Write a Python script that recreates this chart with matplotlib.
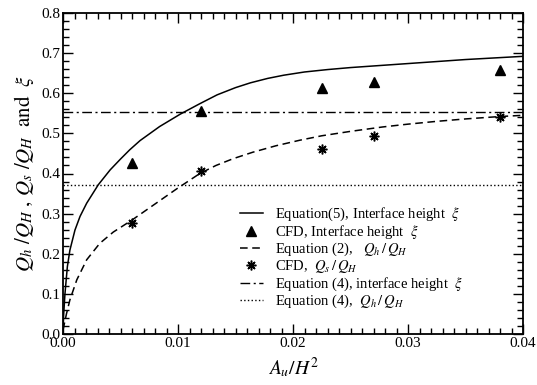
import matplotlib.pyplot as plt
from matplotlib.ticker import MultipleLocator

plt.rcParams['font.family'] = ['Liberation Serif', 'DejaVu Serif']
plt.rcParams['mathtext.fontset'] = 'stix'

# Equation (5), interface height
eq5_x = [0.0, 0.00005, 0.00017, 0.00038, 0.0006, 0.00104, 0.00148, 0.00206, 0.00307, 0.0041,
         0.0050, 0.0058, 0.0067, 0.0084, 0.0102, 0.0119, 0.0134, 0.0150, 0.0163, 0.0178,
         0.0192, 0.0210, 0.0230, 0.0250, 0.0275, 0.0300, 0.0325, 0.0350, 0.0375, 0.0400]
eq5_y = [0.0, 0.045, 0.10, 0.168, 0.209, 0.259, 0.293, 0.326, 0.372, 0.409,
         0.436, 0.459, 0.482, 0.517, 0.548, 0.574, 0.596, 0.614, 0.626, 0.637,
         0.645, 0.653, 0.659, 0.664, 0.669, 0.674, 0.679, 0.684, 0.688, 0.692]

# Equation (2), Qh/QH
eq2_x = [0.0, 0.0003, 0.0006, 0.0012, 0.00206, 0.0032, 0.00437, 0.006, 0.0067, 0.0084,
         0.0099, 0.0119, 0.0133, 0.0148, 0.0165, 0.0185, 0.0206, 0.0225, 0.0250, 0.0278,
         0.0300, 0.0325, 0.0350, 0.0380, 0.0400]
eq2_y = [0.01, 0.05, 0.085, 0.135, 0.185, 0.226, 0.254, 0.284, 0.298, 0.332,
         0.362, 0.400, 0.420, 0.437, 0.453, 0.469, 0.483, 0.494, 0.505, 0.516,
         0.523, 0.530, 0.536, 0.542, 0.545]

# CFD results
cfd_x = [0.006, 0.012, 0.0225, 0.027, 0.038]
cfd_xi = [0.425, 0.555, 0.612, 0.628, 0.657]
cfd_qs = [0.277, 0.405, 0.460, 0.493, 0.541]

# Equation (4) constants
eq4_xi = 0.553
eq4_qh = 0.372

fig = plt.figure(figsize=(5.37, 3.85), dpi=100)
ax = fig.add_axes([63 / 537, 1 - 334 / 385, 460 / 537, 321 / 385])

ax.plot(eq5_x, eq5_y, 'k-', lw=1.1, label=r'Equation(5), Interface height  $\xi$')
ax.plot(cfd_x, cfd_xi, 'k^', ms=7, ls='none', label=r'CFD, Interface height  $\xi$')
ax.plot(eq2_x, eq2_y, 'k--', lw=1.1, dashes=(5, 3), label=r'Equation (2),   $Q_h\,/\,Q_H$')
ax.plot(cfd_x, cfd_qs, 'k', marker=(8, 2, 0), ms=7, mew=1.1, ls='none',
        label=r'CFD,  $Q_s\,/\,Q_H$')
ax.axhline(eq4_xi, color='k', lw=1.0, dashes=(7, 2.5, 1.5, 2.5),
           label=r'Equation (4), interface height  $\xi$')
ax.axhline(eq4_qh, color='k', lw=1.0, ls=':', label=r'Equation (4),  $Q_h\,/\,Q_H$')

ax.set_xlim(0, 0.04)
ax.set_ylim(0, 0.8)
ax.xaxis.set_minor_locator(MultipleLocator(0.001))
ax.yaxis.set_minor_locator(MultipleLocator(0.02))
ax.set_xticks([0, 0.01, 0.02, 0.03, 0.04])
ax.set_xticklabels(['0.00', '0.01', '0.02', '0.03', '0.04'])
ax.set_yticks([0, 0.1, 0.2, 0.3, 0.4, 0.5, 0.6, 0.7, 0.8])
ax.set_yticklabels(['0.0', '0.1', '0.2', '0.3', '0.4', '0.5', '0.6', '0.7', '0.8'])
ax.tick_params(which='both', direction='in', top=True, right=True, labelsize=11, width=1.0)
ax.tick_params(which='major', length=7, pad=2)
ax.tick_params(which='minor', length=4)
for s in ax.spines.values():
    s.set_linewidth(1.3)

ax.set_xlabel(r'$A_u/H^2$', fontsize=14, labelpad=4)
ax.set_ylabel(r'$Q_h\ /Q_H\ ,\, Q_s\ /Q_H\ \ \mathrm{and}\ \ \xi$', fontsize=15, labelpad=4)

ax.legend(loc='lower right', bbox_to_anchor=(0.888, 0.047), frameon=False, fontsize=10.5,
          handlelength=1.6, handletextpad=0.8, labelspacing=0.0, borderaxespad=0.2)

fig.savefig('out.png', dpi=100)
